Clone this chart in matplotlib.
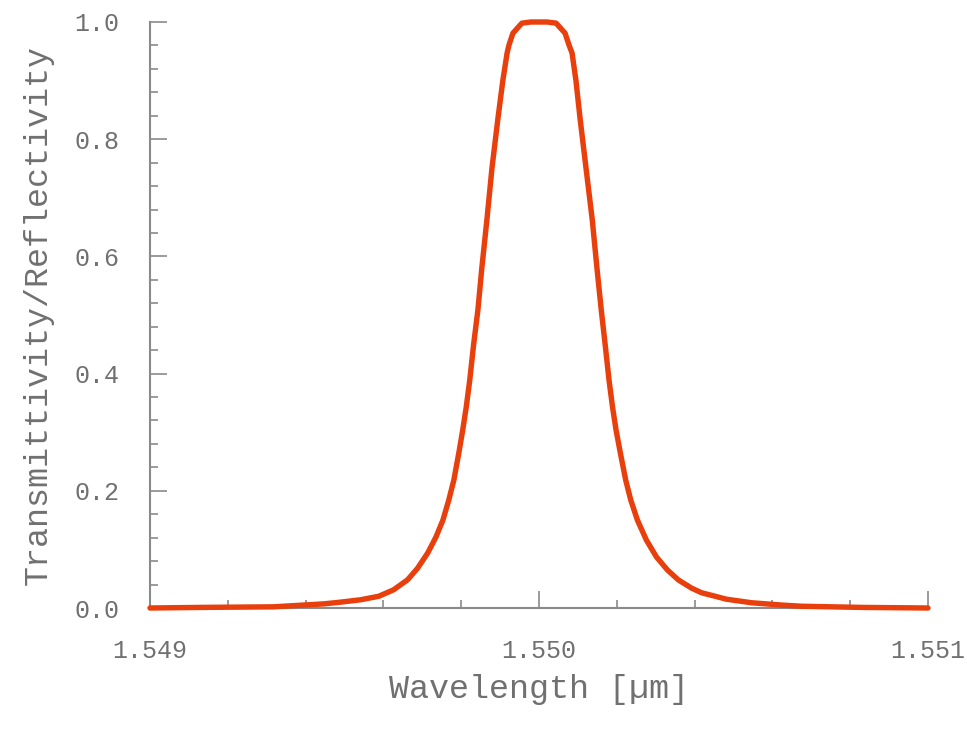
import matplotlib
matplotlib.use("Agg")
import matplotlib.pyplot as plt
from matplotlib.ticker import MultipleLocator, FormatStrFormatter

# values
wavelength = [1.549000, 1.549129, 1.549317, 1.549446, 1.549490, 1.549541,
              1.549588, 1.549626, 1.549662, 1.549688, 1.549714, 1.549735,
              1.549753, 1.549768, 1.549781, 1.549794, 1.549804, 1.549813,
              1.549822, 1.549832, 1.549843, 1.549853, 1.549866, 1.549879,
              1.549894, 1.549907, 1.549918, 1.549923, 1.549933, 1.549956,
              1.549979, 1.550000, 1.550021, 1.550044, 1.550067, 1.550077,
              1.550085, 1.550095, 1.550106, 1.550121, 1.550137, 1.550149,
              1.550160, 1.550170, 1.550180, 1.550189, 1.550198, 1.550209,
              1.550223, 1.550236, 1.550253, 1.550276, 1.550302, 1.550330,
              1.550358, 1.550392, 1.550418, 1.550482, 1.550546, 1.550624,
              1.550675, 1.550830, 1.551000]
transmit = [0.000, 0.001, 0.002, 0.007, 0.010, 0.014,
            0.020, 0.031, 0.048, 0.068, 0.094, 0.121,
            0.150, 0.184, 0.218, 0.265, 0.304, 0.343,
            0.389, 0.450, 0.509, 0.580, 0.662, 0.750,
            0.833, 0.900, 0.947, 0.961, 0.981, 0.998,
            1.000, 1.000, 1.000, 0.998, 0.981, 0.961,
            0.947, 0.900, 0.833, 0.750, 0.662, 0.580,
            0.509, 0.450, 0.389, 0.343, 0.304, 0.265,
            0.218, 0.184, 0.150, 0.116, 0.087, 0.065,
            0.048, 0.034, 0.026, 0.015, 0.009, 0.005,
            0.003, 0.001, 0.000]

grey = '#707070'
font = 'Liberation Mono'

fig = plt.figure(figsize=(9.67, 7.37), dpi=100)
ax = fig.add_axes([150 / 967, 1 - 608 / 737, 778 / 967, 586 / 737])

ax.plot(wavelength, transmit, color='#e83f0c', lw=3.9, zorder=5,
        clip_on=False, solid_capstyle='round', solid_joinstyle='round')

ax.set_xlim(1.549, 1.551)
ax.set_ylim(0.0, 1.0)

for s in ['top', 'right']:
    ax.spines[s].set_visible(False)
for s in ['left', 'bottom']:
    ax.spines[s].set_color('#8a8a8a')
    ax.spines[s].set_linewidth(1.5)

ax.xaxis.set_major_locator(MultipleLocator(0.001))
ax.xaxis.set_minor_locator(MultipleLocator(0.0002))
ax.yaxis.set_major_locator(MultipleLocator(0.2))
ax.yaxis.set_minor_locator(MultipleLocator(0.04))
ax.xaxis.set_major_formatter(FormatStrFormatter('%.3f'))
ax.yaxis.set_major_formatter(FormatStrFormatter('%.1f'))

ax.tick_params(which='both', direction='in', color='#8a8a8a', width=1.2,
               labelcolor=grey)
ax.tick_params(which='major', length=12)
ax.tick_params(which='minor', length=6)
ax.tick_params(axis='y', which='major', pad=22)
ax.tick_params(axis='x', which='major', pad=22)

for lab in ax.get_xticklabels() + ax.get_yticklabels():
    lab.set_fontfamily(font)
    lab.set_fontsize(18)

ax.set_xlabel('Wavelength [µm]', fontfamily=font, fontsize=24,
              color=grey, labelpad=8)
ax.set_ylabel('Transmittivity/Reflectivity', fontfamily=font, fontsize=24,
              color=grey, labelpad=15)

fig.savefig('out.png', dpi=100)
